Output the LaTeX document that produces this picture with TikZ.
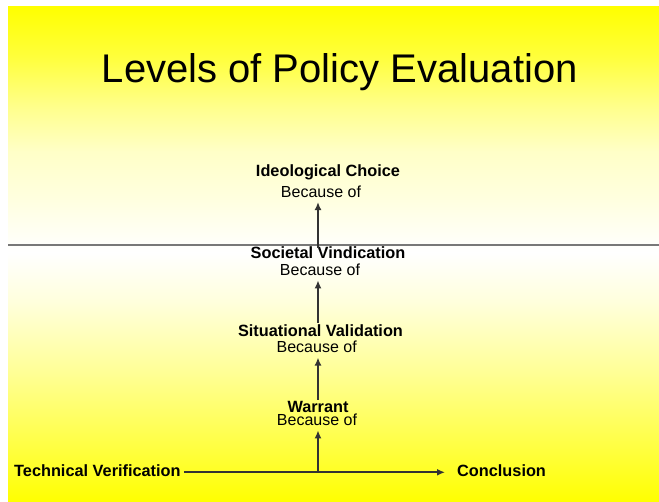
\documentclass[tikz,border=0pt]{standalone}
\usepackage{fontspec}
\setmainfont{Liberation Sans}
\usetikzlibrary{arrows.meta}
\definecolor{Y0}{RGB}{255,255,0}
\definecolor{Y60}{RGB}{255,255,60}
\definecolor{Y140}{RGB}{255,255,140}
\definecolor{Y150}{RGB}{255,255,150}
\definecolor{Y200}{RGB}{255,255,200}
\definecolor{Y220}{RGB}{255,255,220}
\definecolor{Y225}{RGB}{255,255,225}
\definecolor{linegray}{RGB}{120,120,120}
\pgfdeclareverticalshading{bgshade}{100bp}{color(0bp)=(Y0); color(25bp)=(Y0); color(30.05bp)=(Y60); color(38.13bp)=(Y150); color(45.2bp)=(Y220); color(50.25bp)=(white); color(55.3bp)=(Y225); color(60.35bp)=(Y200); color(64.9bp)=(Y140); color(69.95bp)=(Y60); color(75bp)=(Y0); color(100bp)=(Y0)}
\begin{document}
\begin{tikzpicture}[x=1pt,y=-1pt,
  lbl/.style={anchor=base,inner sep=0pt,font=\fontsize{16.3}{18}\selectfont\bfseries},
  bec/.style={anchor=base,inner sep=0pt,font=\fontsize{16}{18}\selectfont},
  arr/.style={draw=black!80,line width=1.6pt,-{Latex[length=8pt,width=7pt]}}]
\useasboundingbox (0,0) rectangle (659,502);
\fill[white] (0,0) rectangle (659,502);
\shade[shading=bgshade] (8,7) rectangle (659,502);
\draw[linegray,line width=2.8pt] (8,245) -- (659,245);
\node[anchor=base,inner sep=0pt,font=\fontsize{40}{44}\selectfont] (title) at (339.7,82.3) {Levels of Policy Evaluation};
\node[lbl] (ic) at (328,176.5) {Ideological Choice};
\node[bec] (b4) at (321,197.7) {Because of};
\node[lbl] (sv) at (328,259) {Societal Vindication};
\node[bec] (b3) at (320,276) {Because of};
\node[lbl] (sit) at (320.5,336.7) {Situational Validation};
\node[bec] (b2) at (316.7,352.7) {Because of};
\node[lbl] (war) at (318,412.2) {Warrant};
\node[bec] (b1) at (317,426) {Because of};
\node[lbl,anchor=base west] (tv) at (14,477) {Technical Verification};
\node[lbl,anchor=base west] (concl) at (457,477) {Conclusion};
\coordinate (trunk) at (318,472.3);
\draw[arr,shorten <=3pt,shorten >=12pt] ([yshift=4.7pt]tv.base east) -- ([yshift=4.7pt]concl.base west);
\draw[arr,shorten >=4pt] (trunk) -- (trunk |- b1.south);
\draw[arr,shorten <=1pt,shorten >=4.5pt] (trunk |- war.north) -- (trunk |- b2.south);
\draw[arr,shorten <=2pt,shorten >=4pt] (trunk |- sit.north) -- (trunk |- b3.south);
\draw[arr,shorten <=-1pt,shorten >=4pt] (trunk |- sv.north) -- (trunk |- b4.south);
\end{tikzpicture}
\end{document}
